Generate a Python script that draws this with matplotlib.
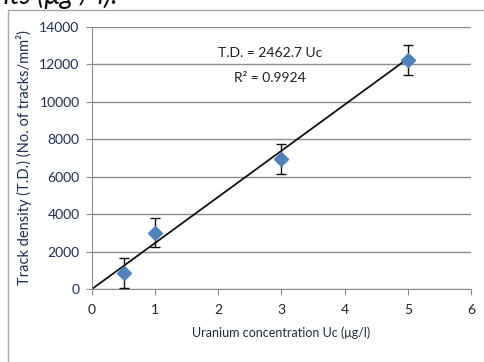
"""Калибровочная прямая: плотность треков против концентрации урана."""
import matplotlib

matplotlib.use("Agg")
import matplotlib.pyplot as plt
from matplotlib.patches import Rectangle

# данные
conc = [0.5, 1, 3, 5]
density = [850, 3000, 6950, 12250]
density_err = [800, 780, 820, 790]
slope = 2462.7
r2 = 0.9924
fit_x = [0, 5]
xticks = [0, 1, 2, 3, 4, 5, 6]
yticks = [0, 2000, 4000, 6000, 8000, 10000, 12000, 14000]

plt.rcParams["font.family"] = ["Lato", "DejaVu Sans"]

fig = plt.figure(figsize=(4.85, 3.62), dpi=100)
ax = fig.add_axes([92 / 485, 1 - 289 / 362, 379 / 485, 262 / 362])

# рамка диаграммы и обрезанная строка текста над ней
fig.patches.append(Rectangle((8 / 485, -0.2), 1.2, 1 - 10 / 362 + 0.2,
                             transform=fig.transFigure, fill=False,
                             edgecolor="#a6a6a6", linewidth=1.0))
fig.text(-0.01, 1.012, "nts (μg / l).", fontsize=20, style="italic",
         ha="left", va="center", color="#111111")

ax.set_xlim(0, 6)
ax.set_ylim(0, 14000)
ax.set_xticks(xticks)
ax.set_yticks(yticks)
ax.grid(axis="y", color="#8c8c8c", linewidth=1.0)
ax.set_axisbelow(True)
for side in ("top", "right"):
    ax.spines[side].set_visible(False)
for side in ("left", "bottom"):
    ax.spines[side].set_color("#8c8c8c")
ax.tick_params(axis="both", color="#8c8c8c", length=4, labelsize=10)
ax.tick_params(axis="y", labelcolor="#1f2d5a", pad=5)
ax.tick_params(axis="x", labelcolor="#222222", pad=7)

fit_y = [slope * x for x in fit_x]
ax.plot(fit_x, fit_y, color="#111111", linewidth=1.3, zorder=2)
ax.errorbar(conc, density, yerr=density_err, fmt="D", color="#4f81bd",
            markersize=7, ecolor="#111111", elinewidth=1.0, capsize=3.5,
            capthick=1.0, zorder=3)

ax.text(2.82, 12620, f"T.D. = {slope} Uc", ha="center", va="center",
        fontsize=10, color="#1f1f1f")
ax.text(2.82, 11280, f"R² = {r2}", ha="center", va="center",
        fontsize=10, color="#1f1f1f")

ax.set_xlabel("Uranium concentration Uc (μg/l)", fontsize=9,
              color="#1f2d3a", labelpad=7)
ax.set_ylabel("Track density (T.D.) (No. of tracks/mm²)", fontsize=10.5,
              color="#1f2d5a", labelpad=5)

fig.savefig("out.png", dpi=100)
